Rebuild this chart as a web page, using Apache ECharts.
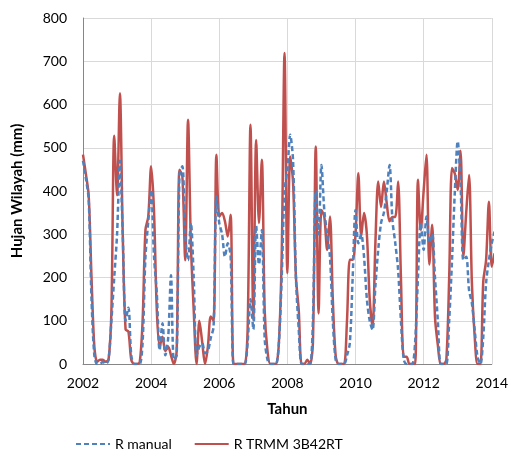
<!DOCTYPE html>
<html>
<head>
<meta charset="utf-8">
<script src="https://cdn.jsdelivr.net/npm/echarts@6/dist/echarts.min.js"></script>
<style>
  html, body { margin: 0; padding: 0; background: #fff; }
  #chart { width: 511px; height: 452px; }
</style>
</head>
<body>
<div id="chart"></div>
<script>
// bulanan, mulai Januari 2002
const startYear = 2002;
const yearTicks = [2002, 2004, 2006, 2008, 2010, 2012, 2014];

const rManual = [
  470, 430, 380, 150, 20, 0, 0, 5, 0, 10, 100, 200,
  300, 470, 300, 100, 130, 20, 0, 0, 0, 50, 248, 330,
  403, 250, 163, 32, 94, 20, 60, 205, 10, 20, 440, 457,
  300, 240, 326, 200, 20, 40, 48, 25, 30, 60, 86, 387,
  326, 300, 248, 279, 250, 0, 0, 0, 0, 0, 50, 150,
  80, 320, 230, 310, 60, 10, 0, 0, 0, 48, 200, 400,
  449, 530, 470, 202, 80, 0, 0, 0, 0, 100, 400, 300,
  460, 356, 300, 248, 100, 10, 0, 0, 0, 20, 48, 200,
  356, 279, 300, 248, 150, 100, 79, 180, 264, 326, 350, 400,
  460, 333, 280, 218, 100, 10, 0, 0, 0, 50, 200, 326,
  264, 341, 280, 300, 200, 100, 0, 0, 0, 100, 240, 400,
  515, 418, 240, 248, 171, 140, 78, 16, 0, 62, 187, 240,
  279, 306
];

const rTrmm = [
  484, 440, 390, 200, 40, 5, 10, 10, 5, 10, 120, 528,
  390, 626, 300, 80, 75, 10, 0, 0, 5, 100, 310, 341,
  457, 356, 125, 40, 63, 30, 40, 20, 0, 30, 449, 434,
  240, 565, 279, 125, 0, 100, 50, 0, 40, 110, 100, 484,
  341, 349, 330, 295, 345, 0, 0, 0, 0, 0, 80, 553,
  102, 518, 326, 472, 125, 30, 0, 0, 0, 48, 250, 719,
  210, 480, 420, 202, 125, 0, 0, 10, 0, 50, 503, 117,
  356, 341, 264, 341, 150, 20, 0, 0, 0, 100, 241, 241,
  300, 441, 295, 349, 300, 150, 86, 279, 422, 363, 422, 372,
  330, 340, 340, 422, 200, 17, 17, 0, 0, 0, 426, 310,
  400, 484, 230, 322, 109, 44, 0, 0, 10, 200, 453, 440,
  403, 493, 248, 350, 437, 187, 62, 0, 0, 190, 240, 375,
  225, 256
];

const toPoints = (arr) => arr.map((v, i) => [startYear + i / 12, v]);

const chart = echarts.init(document.getElementById("chart"));

const fontFamily = "Lato, 'Open Sans', sans-serif";

const option = {
  animation: false,
  textStyle: { fontFamily: fontFamily },
  grid: {
    left: 83,
    right: 18,
    top: 18,
    bottom: 88,
  },
  legend: {
    left: 70,
    top: 432,
    itemWidth: 34,
    itemHeight: 12,
    itemGap: 22,
    // sembunyikan simbol lingkaran, hanya garis
    itemStyle: { opacity: 0 },
    textStyle: {
      fontSize: 14,
      color: "#000",
      fontFamily: fontFamily,
    },
    data: ["R manual", "R TRMM 3B42RT"],
  },
  xAxis: {
    type: "value",
    min: yearTicks[0],
    max: yearTicks[yearTicks.length - 1],
    interval: 2,
    name: "Tahun",
    nameLocation: "middle",
    nameGap: 38,
    nameTextStyle: {
      fontSize: 15,
      fontWeight: "bold",
      color: "#000",
    },
    axisLine: { lineStyle: { color: "#868686" } },
    axisTick: { show: false },
    axisLabel: {
      fontSize: 14,
      color: "#000",
      margin: 12,
      formatter: (v) => String(v),
    },
    splitLine: { show: true, lineStyle: { color: "#d9d9d9" } },
  },
  yAxis: {
    type: "value",
    min: 0,
    max: 800,
    interval: 100,
    name: "Hujan Wilayah (mm)",
    nameLocation: "middle",
    nameGap: 58,
    nameTextStyle: {
      fontSize: 15,
      fontWeight: "bold",
      color: "#000",
    },
    axisLine: { show: true, lineStyle: { color: "#868686" } },
    axisTick: { show: false },
    axisLabel: {
      fontSize: 14,
      color: "#000",
      margin: 16,
    },
    splitLine: { show: true, lineStyle: { color: "#d9d9d9" } },
  },
  series: [
    {
      name: "R manual",
      type: "line",
      smooth: 0.3,
      showSymbol: false,
      symbol: "none",
      lineStyle: {
        width: 2.5,
        color: "#4f81bd",
        type: [5, 3],
      },
      itemStyle: { color: "#4f81bd" },
      data: toPoints(rManual),
      z: 3,
    },
    {
      name: "R TRMM 3B42RT",
      type: "line",
      smooth: 0.3,
      showSymbol: false,
      symbol: "none",
      lineStyle: {
        width: 2.5,
        color: "#c0504d",
      },
      itemStyle: { color: "#c0504d" },
      data: toPoints(rTrmm),
      z: 2,
    },
  ],
};

chart.setOption(option);
</script>
</body>
</html>
